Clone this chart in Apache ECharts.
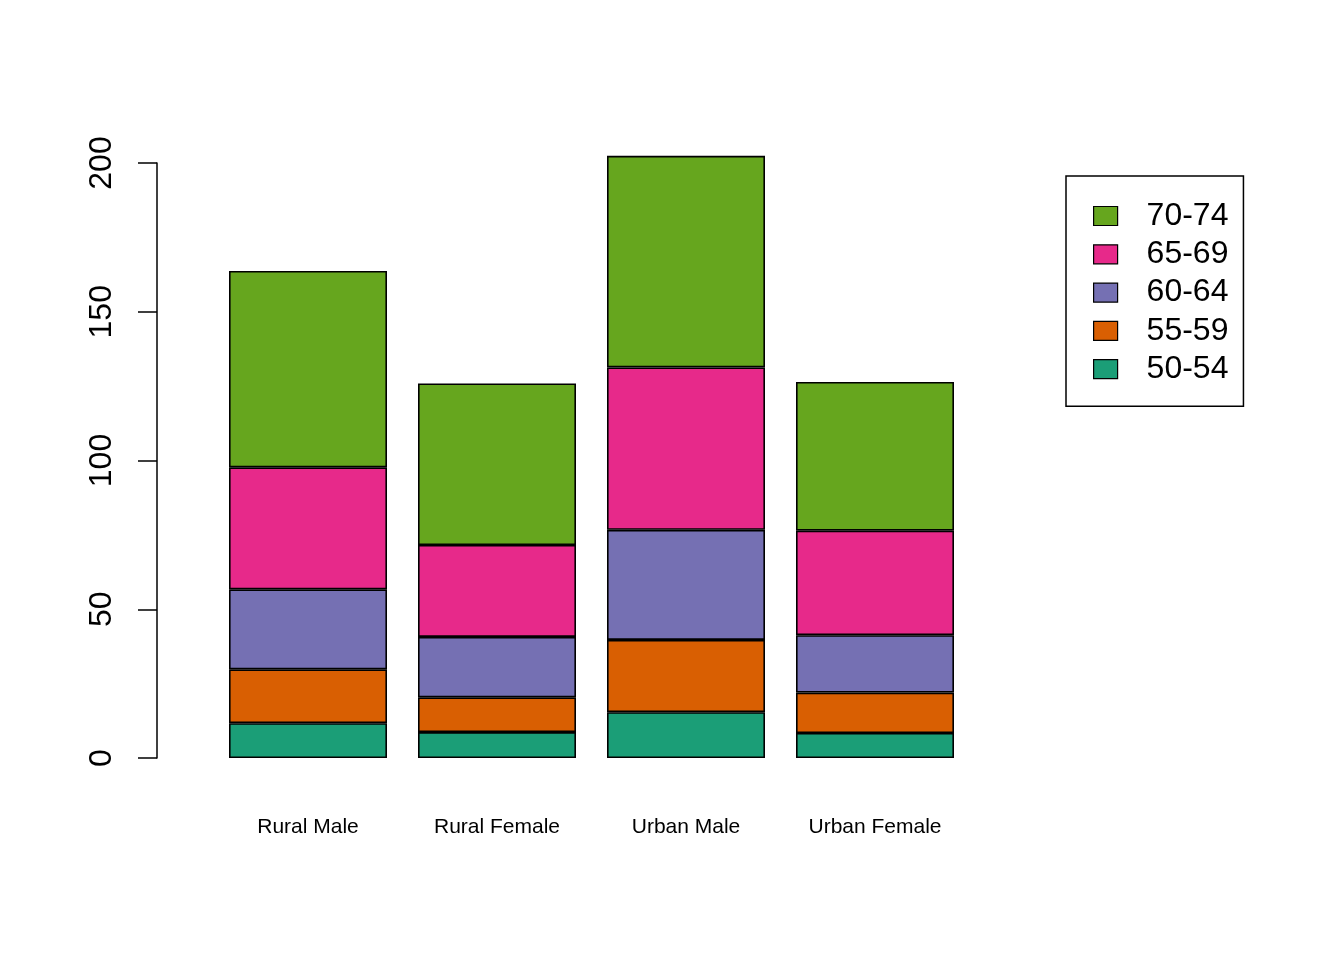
<!DOCTYPE html>
<html>
<head>
<meta charset="utf-8">
<script src="https://cdn.jsdelivr.net/npm/echarts@6/dist/echarts.min.js"></script>
<style>html,body{margin:0;padding:0;background:#fff}#c{width:1344px;height:960px}</style>
</head>
<body>
<div id="c"></div>
<script>
const categories = ['Rural Male', 'Rural Female', 'Urban Male', 'Urban Female'];
const ageGroups = ['50-54', '55-59', '60-64', '65-69', '70-74'];
const v5054 = [11.7, 8.7, 15.4, 8.4];
const v5559 = [18.1, 11.7, 24.3, 13.6];
const v6064 = [26.9, 20.3, 37.0, 19.3];
const v6569 = [41.0, 30.9, 54.6, 35.1];
const v7074 = [66.0, 54.3, 71.1, 50.0];
const yTicks = [0, 50, 100, 150, 200];
const colors = ['#1B9E77', '#D95F02', '#7570B3', '#E7298A', '#66A61E'];
const values = [v5054, v5559, v6064, v6569, v7074];
const font = 'Liberation Sans, Arial, sans-serif';

const chart = echarts.init(document.getElementById('c'));
chart.setOption({
  backgroundColor: '#fff',
  animation: false,
  grid: { left: 213.5, right: 374.5, top: 163, bottom: 202 },
  legend: {
    orient: 'vertical',
    left: 1066, top: 176,
    padding: [24, 15, 21, 27],
    borderColor: '#000', borderWidth: 1.5,
    icon: 'rect',
    itemWidth: 24, itemHeight: 19, itemGap: 6.3,
    data: ageGroups.slice().reverse(),
    textStyle: { fontFamily: font, fontSize: 32, color: '#000', padding: [4, 0, 0, 24] },
    itemStyle: { borderColor: '#000', borderWidth: 1.2 }
  },
  xAxis: {
    type: 'category',
    data: categories,
    axisLine: { show: false },
    axisTick: { show: false },
    axisLabel: { fontFamily: font, fontSize: 21, color: '#000', margin: 59 }
  },
  yAxis: {
    type: 'value',
    min: 0, max: 200, interval: 50,
    offset: 56.5,
    axisLine: { show: true, lineStyle: { color: '#000', width: 1.5 } },
    axisTick: { show: true, length: 19, lineStyle: { color: '#000', width: 1.5 } },
    splitLine: { show: false },
    axisLabel: {
      fontFamily: font, fontSize: 32, color: '#000', rotate: 90, margin: 39,
      formatter: function (v) { return yTicks.indexOf(v) >= 0 ? String(v) : ''; }
    }
  },
  series: ageGroups.map(function (g, i) {
    return {
      name: g,
      type: 'bar',
      stack: 'total',
      barWidth: 158,
      clip: false,
      data: values[i],
      itemStyle: { color: colors[i], borderColor: '#000', borderWidth: 1.6 }
    };
  })
});
</script>
</body>
</html>
